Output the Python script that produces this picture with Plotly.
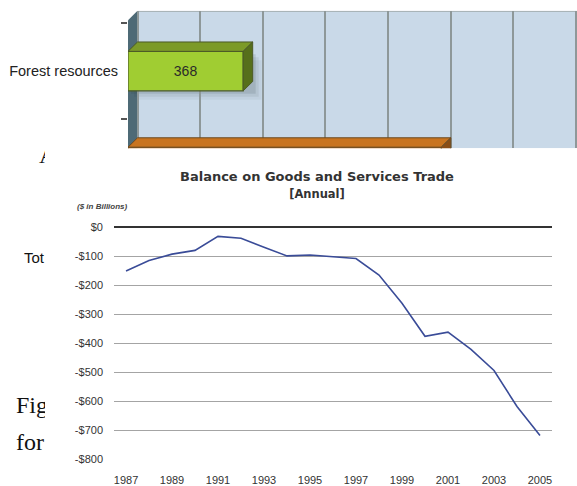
import plotly.graph_objects as go

# ---------------- data ----------------
YEARS = list(range(1987, 2006))
BALANCE = [-151, -115, -93, -80, -32, -38, -69, -99, -96, -103, -108,
           -165, -262, -376, -362, -421, -494, -618, -718]
X_TICKS = list(range(1987, 2006, 2))
Y_TICKS = [0, -100, -200, -300, -400, -500, -600, -700, -800]
Y_TICK_TEXT = ["$0", "-$100", "-$200", "-$300", "-$400", "-$500", "-$600", "-$700", "-$800"]

CATEGORIES = ["Forest resources", "Agricultural land"]
CAT_VALUES = [368, 1001]
CAT_FRONT = ["#a0cd32", "#cf7826"]
CAT_TOP = ["#7c9a28", "#c9741f"]
CAT_SIDE = ["#566f1b", "#8a4d15"]
CAT_EDGE = ["#4b5a27", "#6a4a22"]
CAT_LABEL_POS = ["inside", "none"]   # second bar's label is hidden under the overlapping image

PAGE_TEXT = ["A", "Tot", "Fig", "for"]

W, H = 577, 486
def px(x):
    return x / W
def py(y):
    return 1 - y / H

# bar chart geometry (3D look)
UX = 200 / 62.6          # data units per px on bar x-axis
DX = 9.5 * UX            # depth offset in x units
DY = 9.5 / 97            # depth offset in category units
BAR_W = 40 / 97
Y2_RANGE = [0.804, -0.629]
X2_RANGE = [-DX, (W - 137.5) * UX]

fig = go.Figure()

cat_pos = list(range(len(CATEGORIES)))

shapes = [
    dict(type="rect", xref="x2", yref="y2", x0=0, x1=X2_RANGE[1],
         y0=Y2_RANGE[1], y1=Y2_RANGE[0], fillcolor="#c9d9e8",
         line=dict(width=0), layer="below"),
    dict(type="line", xref="x2", yref="y2", x0=0, x1=X2_RANGE[1],
         y0=Y2_RANGE[1] + 0.006, y1=Y2_RANGE[1] + 0.006,
         line=dict(color="#a9b4b8", width=1.2), layer="below"),
    dict(type="path", xref="x2", yref="y2",
         path=f"M {-DX},{Y2_RANGE[1] + DY} L 0,{Y2_RANGE[1]} L 0,{Y2_RANGE[0]} L {-DX},{Y2_RANGE[0]} Z",
         fillcolor="#4e6a76", line=dict(width=0), layer="below"),
]

# soft shadows behind the bars (drawn under the bars)
for i, v in enumerate(CAT_VALUES):
    yb = cat_pos[i] + BAR_W / 2
    yt = cat_pos[i] - BAR_W / 2
    for k, a in [(1, 0.12), (2, 0.08), (3, 0.05)]:
        ox = 3 * k * UX
        oy = 3 * k / 97
        shapes.append(dict(
            type="rect", xref="x2", yref="y2",
            x0=-DX + ox, x1=v + ox, y0=yt + oy, y1=yb + oy,
            fillcolor=f"rgba(40,55,60,{a})", line=dict(width=0), layer="below"))

# 3D faces
for i, v in enumerate(CAT_VALUES):
    yt = cat_pos[i] - BAR_W / 2
    yb = cat_pos[i] + BAR_W / 2
    fig.add_trace(go.Scatter(
        x=[-DX, 0, v, v - DX, -DX], y=[yt, yt - DY, yt - DY, yt, yt],
        fill="toself", mode="lines", line=dict(color=CAT_EDGE[i], width=1),
        fillcolor=CAT_TOP[i], hoverinfo="skip", showlegend=False,
        xaxis="x2", yaxis="y2"))
    fig.add_trace(go.Scatter(
        x=[v - DX, v, v, v - DX, v - DX], y=[yt, yt - DY, yb - DY, yb, yt],
        fill="toself", mode="lines", line=dict(color=CAT_EDGE[i], width=1),
        fillcolor=CAT_SIDE[i], hoverinfo="skip", showlegend=False,
        xaxis="x2", yaxis="y2"))

fig.add_trace(go.Bar(
    x=CAT_VALUES, y=cat_pos, base=-DX, orientation="h", width=BAR_W,
    marker=dict(color=CAT_FRONT, line=dict(color=CAT_EDGE, width=1.2)),
    text=[str(v) for v in CAT_VALUES], textposition=CAT_LABEL_POS,
    insidetextanchor="middle", textangle=0,
    textfont=dict(family="Liberation Sans", size=14, color="#2a2a2a"),
    showlegend=False, hoverinfo="skip", xaxis="x2", yaxis="y2"))

# line chart
fig.add_trace(go.Scatter(
    x=YEARS, y=BALANCE, mode="lines",
    line=dict(color="#3a4c98", width=1.6),
    showlegend=False, xaxis="x", yaxis="y"))

# page text, clipped by the overlapping chart image
fig.add_trace(go.Scatter(
    x=[39, 24, 16, 16], y=[159, 262, 412, 450], mode="text",
    text=PAGE_TEXT, textposition="middle right", cliponaxis=True,
    textfont=dict(family=["Liberation Serif", "Liberation Sans", "Liberation Serif", "Liberation Serif"],
                  size=[24, 15, 24, 24], color="#111111"),
    showlegend=False, hoverinfo="skip", xaxis="x3", yaxis="y3"))

fig.update_layout(
    width=W, height=H, margin=dict(l=0, r=0, t=0, b=0),
    paper_bgcolor="white", plot_bgcolor="white",
    font=dict(family="Liberation Sans", color="#333333"),
    xaxis=dict(domain=[px(114), px(552)], range=[1986.478, 2005.522], anchor="y",
               tickmode="array", tickvals=X_TICKS, ticktext=[str(t) for t in X_TICKS],
               showgrid=False, zeroline=False, showline=False, ticks="",
               ticklabelstandoff=13, tickfont=dict(size=11, color="#333333")),
    yaxis=dict(domain=[py(465), py(222)], range=[-800, 27.23], anchor="x",
               tickmode="array", tickvals=Y_TICKS, ticktext=Y_TICK_TEXT,
               showgrid=True, gridcolor="#a4a4a4", gridwidth=1.3,
               zeroline=True, zerolinecolor="#333333", zerolinewidth=2,
               showline=False, ticks="", ticklabelstandoff=10,
               tickfont=dict(size=11, color="#333333")),
    xaxis2=dict(domain=[px(128), 1.0], range=X2_RANGE, anchor="y2",
                tickmode="linear", tick0=0, dtick=200, showticklabels=False,
                showgrid=True, gridcolor="#8e9899", gridwidth=1.5,
                zeroline=False, showline=False, ticks=""),
    yaxis2=dict(domain=[py(150), py(11)], range=Y2_RANGE, anchor="x2",
                tickmode="array", tickvals=cat_pos, ticktext=CATEGORIES,
                showgrid=False, zeroline=False, showline=False, ticks="",
                ticklabelstandoff=9,
                tickfont=dict(size=14.5, color="#222222"),
                minor=dict(tickmode="array", tickvals=[p - 0.5 for p in cat_pos] + [cat_pos[-1] + 0.5],
                           ticks="outside", ticklen=6, tickcolor="#555555", tickwidth=1.5,
                           showgrid=False)),
    xaxis3=dict(domain=[0, px(45)], range=[0, 45], anchor="y3", visible=False),
    yaxis3=dict(domain=[0, py(150)], range=[486, 150], anchor="x3", visible=False),
    shapes=shapes,
    annotations=[
        dict(text="<b>Balance on Goods and Services Trade</b><br><b><span style='font-size:11.5px'>[Annual]</span></b>",
             x=px(316.5), y=py(187.5), align="center",
             xref="paper", yref="paper", showarrow=False, xanchor="center", yanchor="middle",
             font=dict(family="DejaVu Sans", size=13, color="#333333")),
        dict(text="<b><i>($ in Billions)</i></b>", x=px(102.5), y=py(209.5),
             xref="paper", yref="paper", showarrow=False, xanchor="center", yanchor="middle",
             font=dict(family="Liberation Sans", size=8, color="#444444")),
    ],
)

fig.write_html("out.html")
